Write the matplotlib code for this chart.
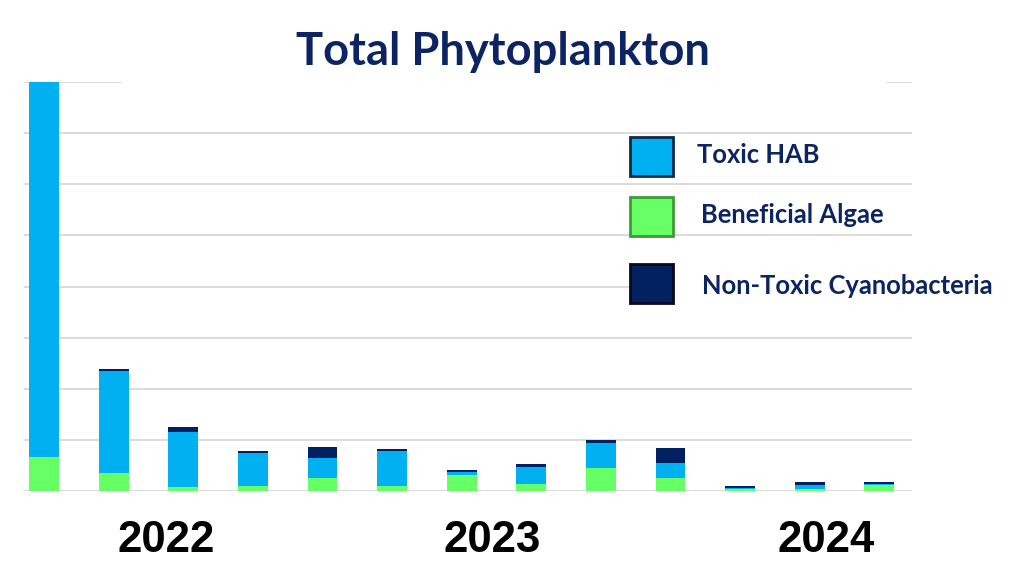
import matplotlib.pyplot as plt
from matplotlib.patches import Rectangle

# one bar per sampling date, stacked: beneficial algae / toxic HAB / non-toxic cyanobacteria
samples = list(range(13))
beneficial = [0.67, 0.36, 0.07, 0.10, 0.26, 0.10, 0.31, 0.14, 0.45, 0.25, 0.03, 0.04, 0.12]
toxic = [7.33, 1.99, 1.08, 0.64, 0.38, 0.69, 0.07, 0.33, 0.48, 0.29, 0.02, 0.08, 0.01]
non_toxic = [0.00, 0.04, 0.10, 0.04, 0.22, 0.03, 0.03, 0.06, 0.06, 0.30, 0.04, 0.05, 0.05]

years = ['2022', '2023', '2024']
year_pos = [1.75, 6.44, 11.24]

c_toxic = '#00b0f0'
c_benef = '#66ff66'
c_dark = '#002060'
navy = '#0c2461'
grid_c = '#dcdcdc'

fig = plt.figure(figsize=(10.24, 5.86), dpi=100)
ax = fig.add_axes([0.0234, 0.1621, 0.8672, 0.6979])

# gridlines (top one partly hidden behind title, y=4 behind legend)
for y in [0, 1, 2, 3, 5, 6, 7]:
    ax.axhline(y, color=grid_c, lw=1.5, zorder=0)
ax.axhline(4, xmin=0, xmax=0.682, color=grid_c, lw=1.5, zorder=0)
ax.axhline(8, xmin=0, xmax=0.108, color=grid_c, lw=1.5, zorder=0)
ax.axhline(8, xmin=0.973, xmax=1, color=grid_c, lw=1.5, zorder=0)

bottom2 = [b + t for b, t in zip(beneficial, toxic)]
ax.bar(samples, beneficial, width=0.43, color=c_benef, zorder=2)
ax.bar(samples, toxic, width=0.43, bottom=beneficial, color=c_toxic, zorder=2)
ax.bar(samples, non_toxic, width=0.43, bottom=bottom2, color=c_dark, zorder=2)

ax.set_xlim(-0.29, 12.47)
ax.set_ylim(0, 8)
for s in ax.spines.values():
    s.set_visible(False)
ax.set_yticks([])
ax.set_xticks(year_pos)
ax.set_xticklabels(years, fontsize=31.5, fontweight='bold',
                   family=['Liberation Sans', 'DejaVu Sans'])
ax.tick_params(axis='x', length=0, pad=21)

fig.text(0.4907, 0.912, 'Total Phytoplankton', ha='center', va='center',
         fontsize=32.6, fontweight='bold', color=navy, family=['Lato', 'DejaVu Sans'])

# legend drawn by hand
leg = [('Toxic HAB', c_toxic, '#0d2a4a', 0.6997, 697, 0.7355),
       ('Beneficial Algae', c_benef, '#3d9b35', 0.5973, 701, 0.633),
       ('Non-Toxic Cyanobacteria', c_dark, '#0a0a1a', 0.4829, 702, 0.512)]
for label, fc, ec, yb, tx, ty in leg:
    fig.patches.append(Rectangle((0.615, yb), 0.042, 0.0666, transform=fig.transFigure,
                                 facecolor=fc, edgecolor=ec, lw=2))
    fig.text(tx / 1024, ty, label, ha='left', va='center', fontsize=18.4,
             fontweight='bold', color=navy, family=['Lato', 'DejaVu Sans'])

fig.savefig('out.png', dpi=100)
